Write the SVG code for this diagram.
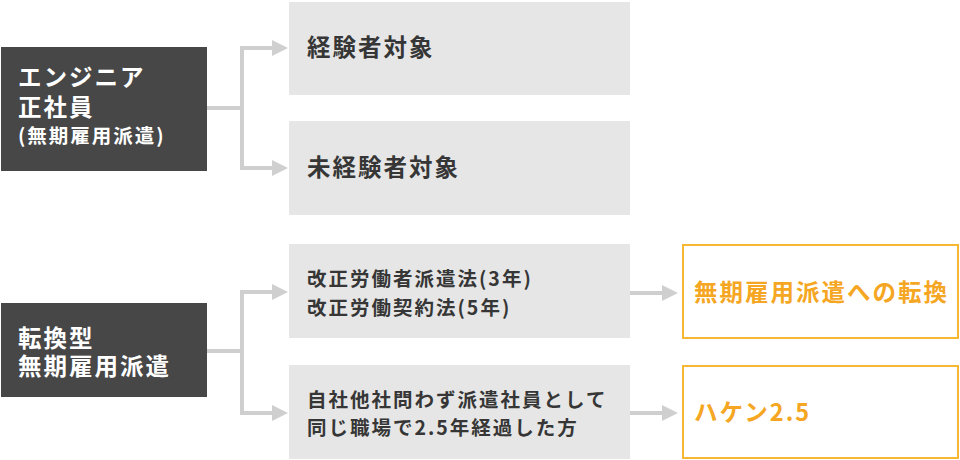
<svg xmlns="http://www.w3.org/2000/svg" width="960" height="460" viewBox="0 0 960 460">
<defs>
<style>
.dark{fill:#474747}
.gray{fill:#e6e6e6}
.org{fill:#fff;stroke:#f6b833;stroke-width:2}
text{font-family:"Noto Sans CJK JP","Noto Sans",sans-serif;font-weight:bold}
.w{fill:#fff}
.t{fill:#363636}
.o{fill:#f5a623}
.big{font-size:23.5px;letter-spacing:2px}
.sm{font-size:19.5px;letter-spacing:2px}
.conn{fill:none;stroke:#cfcfcf;stroke-width:4}
</style>
</defs>
<rect width="960" height="460" fill="#fff"/>
<g id="connectors">
<path class="conn" d="M207,108 H242 M242,48 V168"/>
<path class="conn" d="M240,48 H275"/>
<path class="conn" d="M240,168 H275"/>
<path class="conn" d="M207,351 H242 M242,292 V413"/>
<path class="conn" d="M240,292 H275"/>
<path class="conn" d="M240,413 H275"/>
<path class="conn" d="M630,293 H665"/>
<path class="conn" d="M630,413 H665"/>
<path d="M272,40 L288,48 L272,56 z M272,160 L288,168 L272,176 z M272,284 L288,292 L272,300 z M272,405 L288,413 L272,421 z M662,285 L678,293 L662,301 z M662,405 L678,413 L662,421 z" fill="#cfcfcf"/>
</g>
<g id="engineer">
<rect class="dark" x="1" y="47" width="206" height="124"/>
<text class="w big" x="18" y="86">エンジニア</text>
<text class="w big" x="18" y="116">正社員</text>
<text class="w" x="18" y="143" font-size="19.5" letter-spacing="2">(無期雇用派遣)</text>
</g>
<g id="tenkan">
<rect class="dark" x="1" y="303" width="206" height="94"/>
<text class="w big" x="18" y="347">転換型</text>
<text class="w big" x="18" y="375">無期雇用派遣</text>
</g>
<g id="keiken">
<rect class="gray" x="289" y="2" width="341" height="93"/>
<text class="t big" x="307" y="56">経験者対象</text>
</g>
<g id="mikeiken">
<rect class="gray" x="289" y="121" width="341" height="94"/>
<text class="t big" x="307" y="176">未経験者対象</text>
</g>
<g id="law">
<rect class="gray" x="289" y="244" width="341" height="94"/>
<text class="t sm" x="307" y="286">改正労働者派遣法(3年)</text>
<text class="t sm" x="307" y="315">改正労働契約法(5年)</text>
</g>
<g id="haken-cond">
<rect class="gray" x="289" y="365" width="341" height="94"/>
<text class="t sm" x="307" y="407">自社他社問わず派遣社員として</text>
<text class="t sm" x="307" y="435">同じ職場で2.5年経過した方</text>
</g>
<g id="convert">
<rect class="org" x="683" y="245" width="275" height="93"/>
<text class="o big" x="694" y="301" letter-spacing="2.8">無期雇用派遣への転換</text>
</g>
<g id="haken25">
<rect class="org" x="683" y="366" width="275" height="92"/>
<text class="o big" x="694" y="421">ハケン2.5</text>
</g>
</svg>
